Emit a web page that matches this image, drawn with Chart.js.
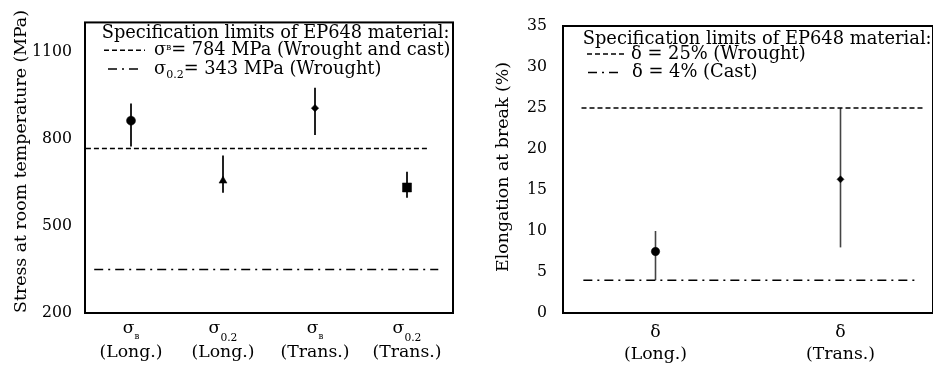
<!DOCTYPE html>
<html>
<head>
<meta charset="utf-8">
<script src="https://cdn.jsdelivr.net/npm/chart.js@4.4.1/dist/chart.umd.min.js"></script>
<style>
  html, body { margin: 0; padding: 0; background: #fff; overflow: hidden; }
  body { width: 933px; height: 365px; position: relative; }
  .panel { position: absolute; top: 0; height: 365px; }
  #stressWrap { left: 0; width: 466px; }
  #elongWrap  { left: 466px; width: 467px; }
</style>
</head>
<body>
<div class="panel" id="stressWrap"><canvas id="stressChart" width="466" height="365"></canvas></div>
<div class="panel" id="elongWrap"><canvas id="elongChart" width="467" height="365"></canvas></div>
<script>
// ---- Data: left panel (stress) ----
const stressSymbols = ['σ', 'σ', 'σ', 'σ'];
const stressSubs    = ['в', '0.2', 'в', '0.2'];
const stressDirs    = ['(Long.)', '(Long.)', '(Trans.)', '(Trans.)'];
const stressMean    = [862, 655, 905, 632];
const stressLow     = [773, 614, 813, 597];
const stressHigh    = [921, 742, 975, 686];
const stressTicks   = [200, 500, 800, 1100];
const stressLimits  = [766, 350];   // where the 784 / 343 MPa lines sit in the picture

// ---- Data: right panel (elongation) ----
const elongSymbols = ['δ', 'δ'];
const elongSubs    = ['', ''];
const elongDirs    = ['(Long.)', '(Trans.)'];
const elongMean    = [7.5, 16.3];
const elongLow     = [4, 8];
const elongHigh    = [10, 25];
const elongTicks   = [0, 5, 10, 15, 20, 25, 30, 35];
const elongLimits  = [25, 4];

// ---- Text helpers ----
const FONT = '"DejaVu Serif", serif';
const mctx = document.createElement('canvas').getContext('2d');
function fitSize(text, width, weight = '') {
  mctx.font = weight + ' 20px ' + FONT;
  return 20 * width / mctx.measureText(text).width;
}
function setFont(ctx, size) { ctx.font = size.toFixed(2) + 'px ' + FONT; }
function runsWidth(ctx, runs, size) {
  let w = 0;
  runs.forEach(([t, s]) => { setFont(ctx, size * s); w += ctx.measureText(t).width; });
  return w;
}
function drawRuns(ctx, runs, x, y, size) {
  runs.forEach(([t, s, dy]) => {
    setFont(ctx, size * s);
    ctx.fillText(t, x, y + dy);
    x += ctx.measureText(t).width;
  });
}
function symbolRuns(sym, sub) {
  if (!sub) return [[sym, 1, 0]];
  return sub === 'в' ? [[sym, 1, 0], [sub, 0.5, 6]] : [[sym, 1, 0], [sub, 0.62, 8]];
}

const DASH = [5, 3];
const DASH_DOT = [9, 5, 2, 5];
const tickSize = fitSize('1100', 40);

// ---- Error bars (drawn under the markers) ----
const errorBars = {
  id: 'errorBars',
  beforeDatasetsDraw(chart, args, opts) {
    const { ctx, scales: { x, y } } = chart;
    chart.data.datasets.forEach(ds => {
      if (!ds.errLow) return;
      ctx.save();
      ctx.strokeStyle = opts.color;
      ctx.lineWidth = opts.width;
      ds.errLow.forEach((lo, i) => {
        const px = x.getPixelForValue(i);
        ctx.beginPath();
        ctx.moveTo(px, y.getPixelForValue(lo));
        ctx.lineTo(px, y.getPixelForValue(ds.errHigh[i]));
        ctx.stroke();
      });
      ctx.restore();
    });
  }
};

// ---- Frame, axis title, legend box text, category labels ----
const deco = {
  id: 'deco',
  afterDraw(chart, args, o) {
    const { ctx, chartArea: a, scales: { x } } = chart;
    ctx.save();
    ctx.fillStyle = '#000';
    ctx.strokeStyle = '#000';

    // frame
    ctx.lineWidth = 2;
    ctx.strokeRect(a.left, a.top, a.right - a.left, a.bottom - a.top);

    // y title
    const ts = fitSize(o.title, o.titleWidth);
    ctx.save();
    ctx.translate(o.titleX, o.titleY);
    ctx.rotate(-Math.PI / 2);
    setFont(ctx, ts);
    ctx.textAlign = 'center';
    ctx.textBaseline = 'middle';
    ctx.fillText(o.title, 0, 0);
    ctx.restore();

    // legend
    const ls = fitSize(o.legend.head, o.legend.headWidth);
    ctx.textAlign = 'left';
    ctx.textBaseline = 'alphabetic';
    setFont(ctx, ls);
    ctx.fillText(o.legend.head, o.legend.x, o.legend.rows[0]);
    o.legend.items.forEach((it, k) => {
      const by = o.legend.rows[k + 1];
      ctx.save();
      ctx.lineWidth = 1.5;
      ctx.setLineDash(it.dash);
      ctx.beginPath();
      ctx.moveTo(it.x0, by - 4.5);
      ctx.lineTo(it.x1, by - 4.5);
      ctx.stroke();
      ctx.restore();
      drawRuns(ctx, it.runs, it.textX, by, ls);
    });

    // category labels
    const cs = fitSize('(Long.)', o.catWidth);
    o.symbols.forEach((sym, i) => {
      const cx = x.getPixelForValue(i);
      const runs = symbolRuns(sym, o.subs[i]);
      drawRuns(ctx, runs, cx - runsWidth(ctx, runs, cs) / 2, o.symY, cs);
      setFont(ctx, cs);
      ctx.textAlign = 'center';
      ctx.fillText(o.dirs[i], cx, o.dirY);
      ctx.textAlign = 'left';
    });
    ctx.restore();
  }
};

function limitLine(level, span, dash) {
  return {
    data: [{ x: span[0], y: level }, { x: span[1], y: level }],
    showLine: true, borderColor: '#000', borderWidth: 1.5, borderDash: dash,
    pointRadius: 0, pointHoverRadius: 0, fill: false
  };
}

function makeChart(id, cfg) {
  return new Chart(document.getElementById(id), {
    type: 'scatter',
    data: {
      datasets: [
        limitLine(cfg.limits[0], cfg.spans[0], DASH),
        limitLine(cfg.limits[1], cfg.spans[1], DASH_DOT),
        {
          data: cfg.mean.map((v, i) => ({ x: i, y: v })),
          errLow: cfg.low, errHigh: cfg.high,
          pointStyle: cfg.styles, pointRadius: cfg.radii,
          backgroundColor: '#000', borderColor: '#000', borderWidth: 0.5
        }
      ]
    },
    options: {
      responsive: false, animation: false, devicePixelRatio: 1,
      layout: { padding: cfg.padding, autoPadding: false },
      plugins: {
        legend: { display: false }, tooltip: { enabled: false },
        errorBars: cfg.bars,
        deco: cfg.deco
      },
      scales: {
        x: { type: 'linear', display: false, min: -0.5, max: cfg.mean.length - 0.5 },
        y: {
          type: 'linear', min: cfg.yMin, max: cfg.yMax,
          afterBuildTicks: s => { s.ticks = cfg.ticks.map(v => ({ value: v })); },
          afterFit: s => { s.width = cfg.yWidth; },
          ticks: {
            color: '#000', padding: cfg.tickPad, callback: v => String(v),
            font: { family: FONT, size: tickSize }
          },
          grid: { display: false, drawTicks: false },
          border: { display: false }
        }
      }
    },
    plugins: [errorBars, deco]
  });
}

// ---- Left: stress ----
makeChart('stressChart', {
  mean: stressMean, low: stressLow, high: stressHigh, limits: stressLimits,
  ticks: stressTicks, yMin: 200, yMax: 1200,
  spans: [[-0.49, 3.22], [-0.40, 3.34]],
  styles: ['circle', 'triangle', 'rectRot', 'rect'],
  radii: [4.5, 4.6, 3.7, 6.4],
  padding: { top: 20, right: 13, bottom: 52, left: 0 },
  yWidth: 85, tickPad: 13,
  bars: { color: '#222', width: 2 },
  deco: {
    title: 'Stress at room temperature (MPa)', titleWidth: 303, titleX: 21, titleY: 161.5,
    symbols: stressSymbols, subs: stressSubs, dirs: stressDirs,
    catWidth: 63, symY: 333, dirY: 357,
    legend: {
      head: 'Specification limits of EP648 material:', headWidth: 348,
      x: 101.7, rows: [37.5, 54.7, 73.5],
      items: [
        { dash: DASH, x0: 104, x1: 145, textX: 154,
          runs: [['σ', 1, 0], ['в', 0.5, -5], ['= 784 MPa (Wrought and cast)', 1, 0]] },
        { dash: DASH_DOT, x0: 108, x1: 140, textX: 154,
          runs: [['σ', 1, 0], ['0.2', 0.62, 4], ['= 343 MPa (Wrought)', 1, 0]] }
      ]
    }
  }
});

// ---- Right: elongation ----
makeChart('elongChart', {
  mean: elongMean, low: elongLow, high: elongHigh, limits: elongLimits,
  ticks: elongTicks, yMin: 0, yMax: 35,
  spans: [[-0.40, 1.45], [-0.39, 1.42]],
  styles: ['circle', 'rectRot'],
  radii: [4.2, 3.5],
  padding: { top: 26, right: 0, bottom: 52, left: 0 },
  yWidth: 97, tickPad: 16,
  bars: { color: '#444', width: 1.6 },
  deco: {
    title: 'Elongation at break (%)', titleWidth: 210, titleX: 37, titleY: 167,
    symbols: elongSymbols, subs: elongSubs, dirs: elongDirs,
    catWidth: 63, symY: 337, dirY: 359,
    legend: {
      head: 'Specification limits of EP648 material:', headWidth: 349,
      x: 116.7, rows: [43.6, 58.6, 77],
      items: [
        { dash: DASH, x0: 121, x1: 161, textX: 165, runs: [['δ = 25% (Wrought)', 1, 0]] },
        { dash: DASH_DOT, x0: 122, x1: 154, textX: 166, runs: [['δ = 4% (Cast)', 1, 0]] }
      ]
    }
  }
});
</script>
</body>
</html>
